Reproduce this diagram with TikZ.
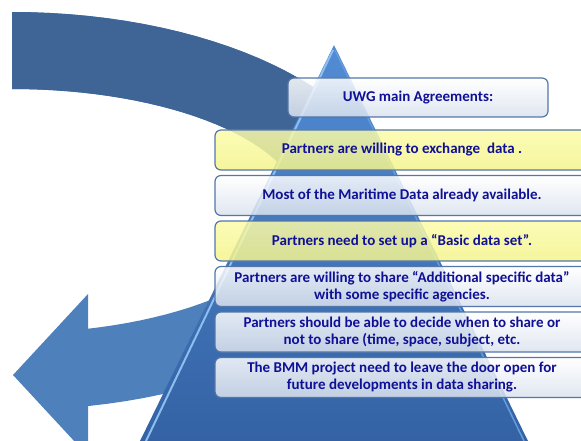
\documentclass[tikz,border=0pt]{standalone}
\usepackage{fontspec}
\setmainfont{Carlito}
\usepackage{tikz}
\usetikzlibrary{positioning}

\definecolor{navytext}{RGB}{16,16,150}
\definecolor{boxline}{RGB}{84,118,168}
\definecolor{banddark}{RGB}{62,101,150}
\definecolor{bandlight}{RGB}{78,128,188}
\definecolor{pyrtop}{RGB}{82,140,212}
\definecolor{pyrbot}{RGB}{52,98,164}
\definecolor{pyredgel}{RGB}{140,190,240}
\definecolor{pyredger}{RGB}{100,155,220}
\definecolor{whitebot}{RGB}{218,226,238}
\definecolor{yellowtop}{RGB}{251,251,170}
\definecolor{yellowbot}{RGB}{244,244,140}

\begin{document}
\begin{tikzpicture}[x=1pt,y=-1pt,node distance=45.5pt,on grid,semithick,
  font=\fontsize{15}{17}\selectfont\bfseries]
\tikzstyle{agrbox} = [draw=boxline,line width=1.2pt,rounded corners=6pt,
  minimum width=374pt,minimum height=40pt,align=center,text=navytext,
  fill opacity=0.85,text opacity=1,inner sep=2pt]
\tikzstyle{whitebox} = [agrbox,top color=white,bottom color=whitebot]
\tikzstyle{yellowbox} = [agrbox,top color=yellowtop,bottom color=yellowbot]
    \useasboundingbox (0,0) rectangle (581,441);
    \clip (0,0) rectangle (581,441);
    % round arrow behind everything
    \def\bandpath{plot[domain=90:-78.6,samples=60,variable=\t] ({12+385*cos(\t)},{211-199*sin(\t)})
      -- (88,456) -- (13,375) -- (88,294)
      -- plot[domain=-74.8:90,samples=60,variable=\t] ({12+290*cos(\t)},{211-122*sin(\t)})
      -- cycle}
    \fill[bandlight] \bandpath;
    \begin{scope}
      \clip (0,0) rectangle (581,250);
      \fill[banddark] \bandpath;
    \end{scope}
    % pyramid
    \shade[top color=pyrtop,bottom color=pyrbot] (334,45) -- (140,441) -- (528,441) -- cycle;
    \draw[line width=2pt,pyredgel] (333,50) -- (146,441);
    \draw[line width=1.5pt,pyredger] (335,50) -- (524,441);
    % boxes
    \node[whitebox,minimum width=260pt,minimum height=39pt] (uwg) at (418,97.5) {UWG main Agreements:};
    \node[yellowbox] (agr1) at (402,150) {Partners are willing to exchange\ \ data .};
    \node[whitebox] (agr2) [below=of agr1] {Most of the Maritime Data already available.};
    \node[yellowbox] (agr3) [below=of agr2] {Partners need to set up a “Basic data set”.};
    \node[whitebox] (agr4) [below=of agr3] {Partners are willing to share “Additional specific data”\\with some specific agencies.};
    \node[whitebox] (agr5) [below=of agr4] {Partners should be able to decide when to share or\\not to share (time, space, subject, etc.};
    \node[whitebox] (agr6) [below=of agr5] {The BMM project need to leave the door open for\\future developments in data sharing.};
\end{tikzpicture}
\end{document}
